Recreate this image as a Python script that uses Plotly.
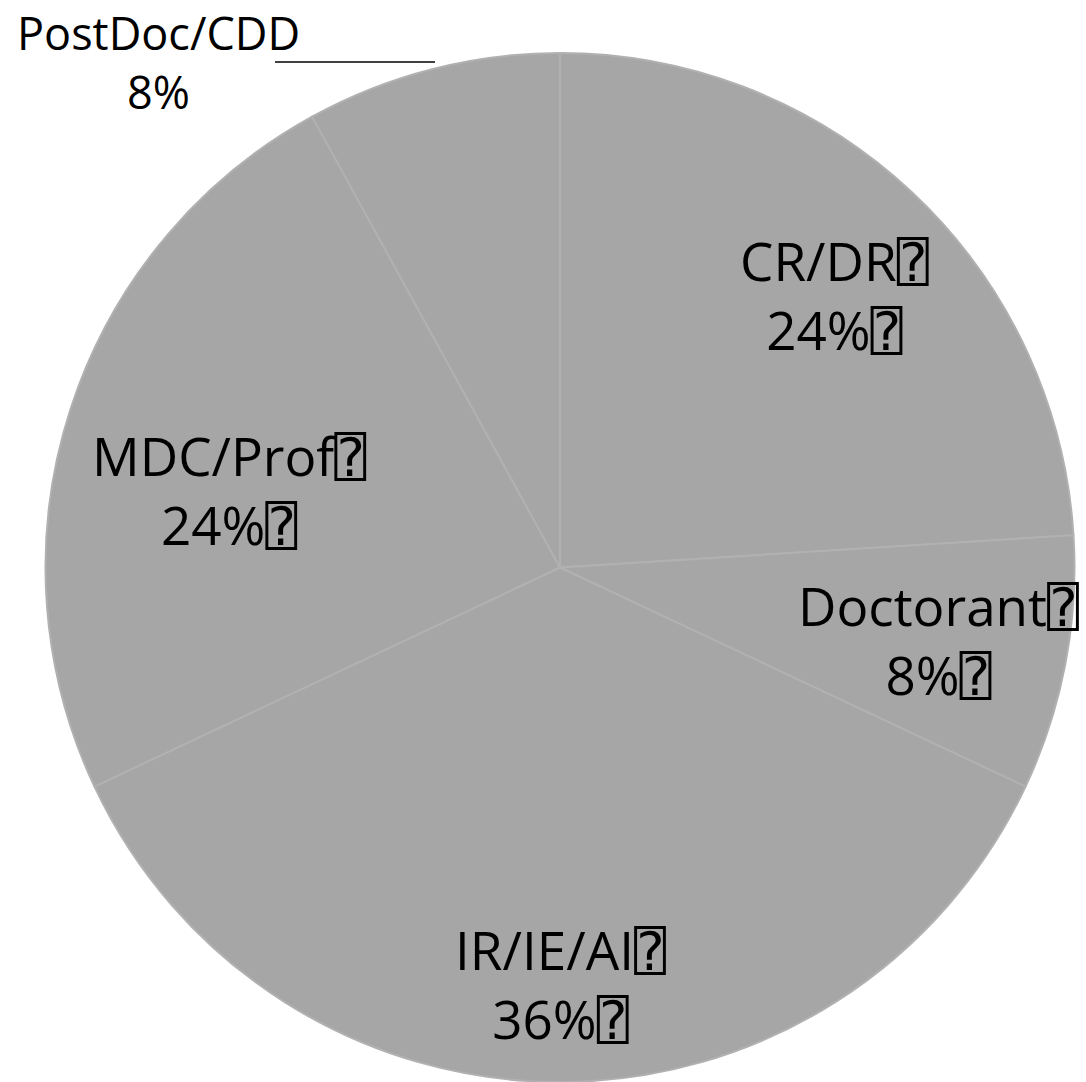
import plotly.graph_objects as go

categories = ["CR/DR", "Doctorant", "IR/IE/AI", "MDC/Prof", "PostDoc/CDD"]
values = [24, 8, 36, 24, 8]
pct_labels = ["24%", "8%", "36%", "24%", "8%"]
has_tofu = [True, True, True, True, False]

W, H = 1086, 1082

fig = go.Figure(go.Pie(
    labels=categories,
    values=values,
    sort=False,
    direction="clockwise",
    rotation=0,
    marker=dict(colors=["#a6a6a6"] * len(values), line=dict(color="#b1b1b1", width=2)),
    textinfo="none",
    hoverinfo="label+percent",
    showlegend=False,
    domain=dict(x=[45 / W, 1075 / W], y=[0, 1029 / H]),
))

tofu = '<span style="font-family:DejaVu Sans Mono">\u2370</span>'
# label block centres (pixels) and font sizes
label_pos = [(834, 295), (938, 640), (560, 984), (229, 490), (158, 62)]
label_size = [53, 53, 53, 53, 45]
for cat, p, t, (px, py), fs in zip(categories, pct_labels, has_tofu, label_pos, label_size):
    suf = tofu if t else ""
    fig.add_annotation(x=px / W, y=1 - py / H, xref="paper", yref="paper",
                       text=f"{cat}{suf}<br>{p}{suf}", showarrow=False,
                       font=dict(family="Open Sans, Lato, sans-serif", size=fs, color="#000000"),
                       xanchor="center", yanchor="middle", align="center")

# leader line for the outside label
fig.add_shape(type="line", xref="paper", yref="paper",
              x0=275 / W, x1=435 / W, y0=1 - 62 / H, y1=1 - 62 / H,
              line=dict(color="#000000", width=1.5))

fig.update_layout(width=W, height=H, margin=dict(l=0, r=0, t=0, b=0),
                  paper_bgcolor="#ffffff", plot_bgcolor="#ffffff")
fig.write_html("out.html", config={"displayModeBar": False},
               post_script="document.body.style.margin='0';")
